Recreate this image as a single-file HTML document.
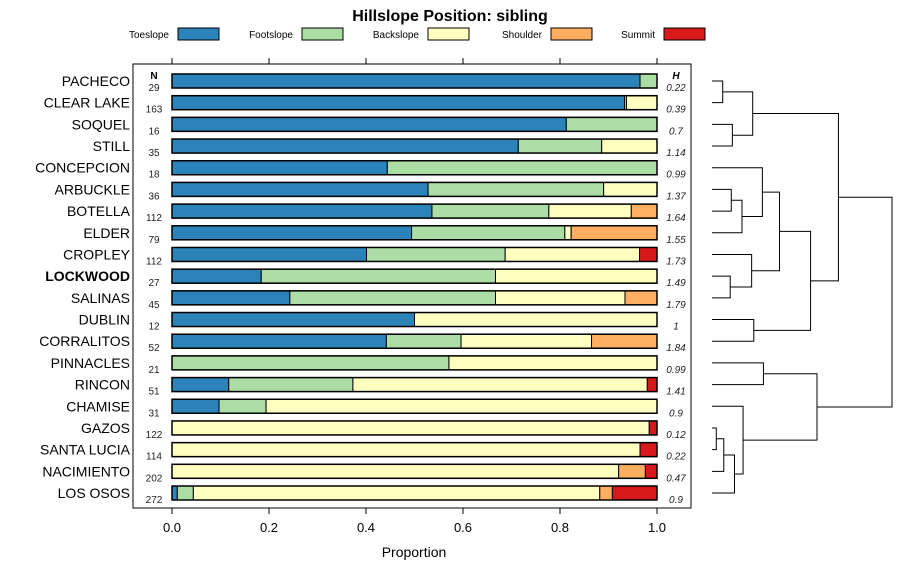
<!DOCTYPE html>
<html><head><meta charset="utf-8"><style>
html,body{margin:0;padding:0;background:#fff;}
svg{display:block;font-family:"Liberation Sans",sans-serif;}
</style></head><body>
<svg id="chart" width="900" height="580" viewBox="0 0 900 580" xmlns="http://www.w3.org/2000/svg">
<text x="450" y="21" text-anchor="middle" font-size="16" font-weight="bold">Hillslope Position: sibling</text>
<g id="legend"></g>
<rect x="133" y="64" width="558" height="444" fill="none" stroke="#000" stroke-width="1"/>
<g id="bars"></g>
<g id="axis"></g>
<text x="414" y="557" text-anchor="middle" font-size="14">Proportion</text>
<text x="154" y="79" text-anchor="middle" font-size="10" font-weight="bold">N</text>
<text x="676" y="79" text-anchor="middle" font-size="10" font-weight="bold" font-style="italic">H</text>
<g id="dendro" fill="none" stroke="#000" stroke-width="1"></g>
</svg>
<script>
const series = ["Toeslope","Footslope","Backslope","Shoulder","Summit"];
const colors = ["#2b83ba","#abdda4","#ffffbf","#fdae61","#d7191c"];
const categories = ["PACHECO","CLEAR LAKE","SOQUEL","STILL","CONCEPCION","ARBUCKLE","BOTELLA","ELDER","CROPLEY","LOCKWOOD","SALINAS","DUBLIN","CORRALITOS","PINNACLES","RINCON","CHAMISE","GAZOS","SANTA LUCIA","NACIMIENTO","LOS OSOS"];
const nValues = [29,163,16,35,18,36,112,79,112,27,45,12,52,21,51,31,122,114,202,272];
const hValues = ["0.22","0.39","0.7","1.14","0.99","1.37","1.64","1.55","1.73","1.49","1.79","1","1.84","0.99","1.41","0.9","0.12","0.22","0.47","0.9"];
const toeslope  = [0.965,0.933,0.813,0.714,0.444,0.528,0.536,0.494,0.401,0.184,0.243,0.5,0.442,0,0.117,0.097,0,0,0,0.011];
const footslope = [0.035,0.004,0.187,0.172,0.556,0.362,0.241,0.316,0.286,0.483,0.424,0,0.154,0.571,0.256,0.097,0,0,0,0.033];
const backslope = [0,0.063,0,0.114,0,0.11,0.17,0.013,0.277,0.333,0.267,0.5,0.269,0.429,0.607,0.806,0.984,0.965,0.921,0.838];
const shoulder  = [0,0,0,0,0,0,0.053,0.177,0,0,0.066,0,0.135,0,0,0,0,0,0.055,0.026];
const summit    = [0,0,0,0,0,0,0,0,0.036,0,0,0,0,0,0.02,0,0.016,0.035,0.024,0.092];
const xTicks = [0,0.2,0.4,0.6,0.8,1.0];
const xTickLabels = ["0.0","0.2","0.4","0.6","0.8","1.0"];
// dendrogram merges: [leftId,rightId,height]; leaves are 0..19, merges are 20+
const merges = [[0,1,0.1],[2,3,0.19],[20,21,0.38],[5,6,0.18],[22+1,7,0.28],[4,24,0.47],[9,10,0.17],[8,26,0.37],[25,27,0.63],[11,12,0.39],[28,29,0.92],[23-1,30,1.18],
[13,14,0.48],[16,17,0.04],[33,18,0.11],[34,19,0.21],[15,35,0.29],[32,36,0.98],[31,37,1.68]];

const NS="http://www.w3.org/2000/svg";
function mk(tag,attrs,parent){const e=document.createElementNS(NS,tag);for(const k in attrs)e.setAttribute(k,attrs[k]);parent.appendChild(e);return e;}
const x0=172,x1=657;
const xs=v=>x0+v*(x1-x0);
const ys=i=>81+i*((493-81)/19);
const barsG=document.getElementById('bars');
const data=[toeslope,footslope,backslope,shoulder,summit];
categories.forEach((c,i)=>{
  const y=ys(i);
  let cum=0;
  data.forEach((arr,s)=>{
    const v=arr[i];
    if(v>0){
      const r=mk('rect',{x:xs(cum),y:y-7,width:xs(cum+v)-xs(cum),height:14,fill:colors[s],stroke:'#000','stroke-width':1},barsG);
      
      
    }
    cum+=v;
  });
  const o=mk('rect',{x:xs(0),y:y-7,width:xs(1)-xs(0),height:14,fill:'none',stroke:'#000','stroke-width':1.5},barsG);
  
  
  const t=mk('text',{x:130,y:y+5,'text-anchor':'end','font-size':14,'font-weight':c==='LOCKWOOD'?'bold':'normal'},barsG);
  t.textContent=c;
  
  
  const n=mk('text',{x:154,y:y+10,'text-anchor':'middle','font-size':10,fill:'#222'},barsG);
  n.textContent=nValues[i];
  
  
  const h=mk('text',{x:676,y:y+10,'text-anchor':'middle','font-size':10,'font-style':'italic',fill:'#222'},barsG);
  h.textContent=hValues[i];
  
  
});
const ax=document.getElementById('axis');
xTicks.forEach((v,i)=>{
  const l1=mk('line',{x1:xs(v),x2:xs(v),y1:508,y2:514,stroke:'#000'},ax);
  
  
  const l2=mk('line',{x1:xs(v),x2:xs(v),y1:58,y2:64,stroke:'#000'},ax);
  
  
  const t=mk('text',{x:xs(v),y:532,'text-anchor':'middle','font-size':13},ax);
  t.textContent=xTickLabels[i];
  
  
});
const lg=document.getElementById('legend');
const legX=[178,302,428,551,664];
series.forEach((s,i)=>{
  const t=mk('text',{x:legX[i]-9,y:38,'text-anchor':'end','font-size':10},lg);
  t.textContent=s;
  
  
  const r=mk('rect',{x:legX[i],y:28,width:41,height:12,fill:colors[i],stroke:'#000'},lg);
  
  
});
// dendrogram
const dg=document.getElementById('dendro');
const dx=h=>712+h*(892-712)/1.68;
const nodes=categories.map((c,i)=>({y:ys(i),h:0}));
merges.forEach(m=>{
  const a=nodes[m[0]],b=nodes[m[1]],X=dx(m[2]);
  const p=mk('path',{d:`M${dx(a.h)},${a.y}H${X}V${b.y}H${dx(b.h)}`},dg);
  
  
  nodes.push({y:(a.y+b.y)/2,h:m[2]});
});
</script>
</body></html>
